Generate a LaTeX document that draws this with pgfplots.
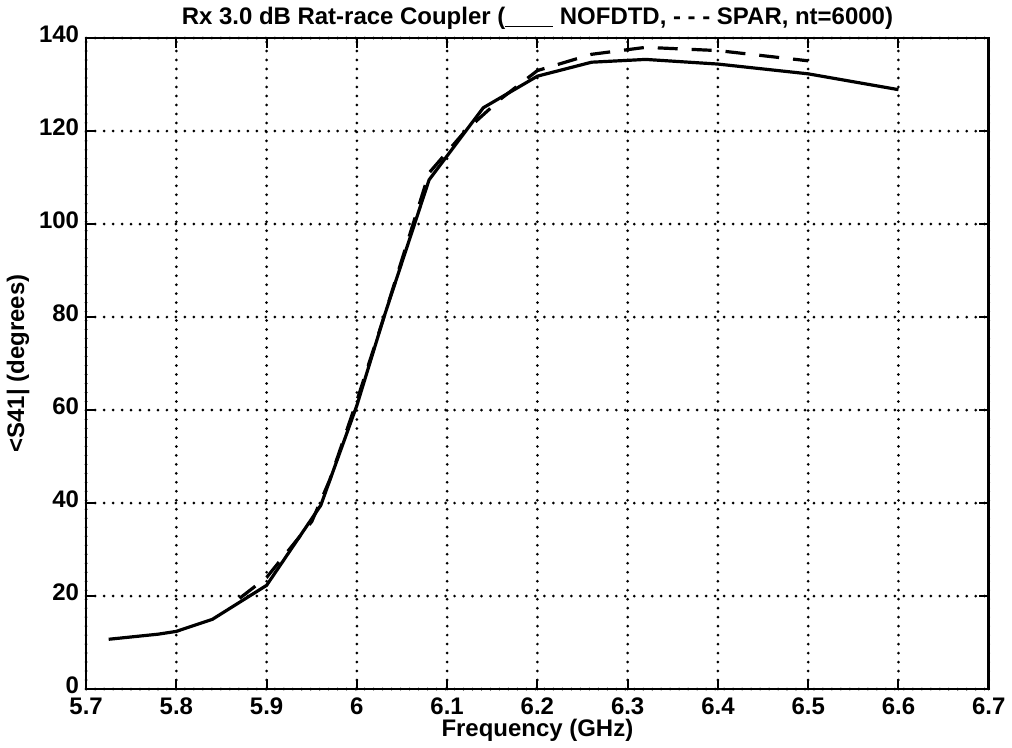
\documentclass[border=0pt]{standalone}
\usepackage{pgfplots}
\pgfplotsset{compat=1.18}
\usepackage{fontspec}
\setmainfont{Liberation Sans}
\begin{document}
\begin{tikzpicture}
\begin{axis}[
  scale only axis,
  width=452pt, height=326pt,
  xmin=5.7, xmax=6.7, ymin=0, ymax=140,
  xtick={5.7,5.8,5.9,6.0,6.1,6.2,6.3,6.4,6.5,6.6,6.7},
  xticklabels={5.7,5.8,5.9,6,6.1,6.2,6.3,6.4,6.5,6.6,6.7},
  ytick={0,20,40,60,80,100,120,140},
  /pgf/number format/assume math mode=true,
  ticklabel style={font=\bfseries\large},
  yticklabel style={yshift=2pt},
  xticklabel style={yshift=-1pt},
  grid=major,
  major grid style={black, line width=1.5pt, line cap=round, dash pattern=on 0pt off 4.5pt},
  axis line style={black, line width=1.3pt},
  tick style={black, line width=1pt},
  major tick length=5pt,
  tick align=inside,
  xlabel={\bfseries\large Frequency (GHz)},
  ylabel={\bfseries\large <S41| (degrees)},
  title={\bfseries\large Rx 3.0 dB Rat-race Coupler (\underline{\hspace{2em}} NOFDTD, - - - SPAR, nt=6000)},
  xlabel style={yshift=5pt},
  ylabel style={yshift=-2pt},
  title style={yshift=-5pt},
]
\addplot[black, line width=1.6pt] coordinates {
(5.725,10.7) (5.78,11.8) (5.80,12.4) (5.84,15.0) (5.90,22.3) (5.96,39.5)
(6.00,61) (6.03,80) (6.08,109.5) (6.14,125) (6.20,131.8) (6.26,134.8)
(6.32,135.4) (6.40,134.4) (6.50,132.3) (6.60,128.9)
};
\addplot[black, line width=1.6pt, dash pattern=on 10pt off 7pt] coordinates {
(5.87,19.5) (5.90,24) (5.95,36) (5.97,45) (6.00,62) (6.03,80)
(6.08,111) (6.12,120) (6.16,127) (6.20,133) (6.26,136.5) (6.32,138)
(6.40,137.3) (6.50,135.1)
};
\end{axis}
\end{tikzpicture}
\end{document}
